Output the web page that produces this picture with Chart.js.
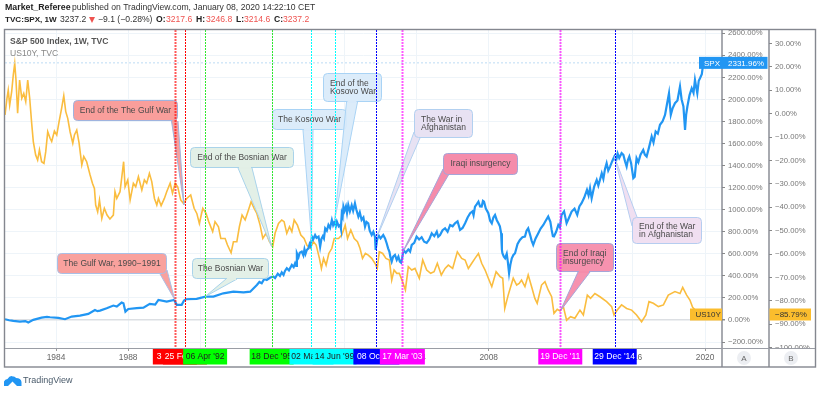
<!DOCTYPE html>
<html><head><meta charset="utf-8">
<style>html,body{margin:0;padding:0;background:#fff}#w{width:820px;height:393px;position:relative}</style>
<script src="https://cdn.jsdelivr.net/npm/chart.js@4/dist/chart.umd.min.js"></script>
</head><body><div id="w"><canvas id="c" width="820" height="393"></canvas></div>
<script>
const spxYears=[1981.17,1981.4,1981.63,1982.0,1982.3,1982.46,1982.74,1983.2,1983.5,1983.67,1984.13,1984.5,1984.87,1985.33,1985.79,1986.16,1986.3,1986.44,1986.81,1987.18,1987.37,1987.5,1987.64,1987.74,1987.85,1988.01,1988.48,1988.85,1989.2,1989.5,1989.68,1990.14,1990.55,1990.7,1990.97,1991.1,1991.21,1991.8,1992.29,1992.73,1993.28,1993.84,1994.4,1994.77,
1995.14,1995.28,1995.41,1995.55,1995.69,1995.88,1996.06,1996.15,1996.3,1996.42,
1996.52,1996.62,1996.7,1996.8,1996.92,1997.08,1997.18,1997.26,1997.32,1997.36,
1997.45,1997.52,1997.63,1997.72,1997.78,1997.84,1997.91,1998.0,1998.07,1998.13,
1998.19,1998.26,1998.37,1998.45,1998.56,1998.62,1998.65,1998.72,1998.8,1998.86,
1998.93,1999.02,1999.11,1999.2,1999.3,1999.37,1999.45,1999.52,1999.58,1999.68,
1999.76,1999.8,1999.85,1999.9,1999.94,2000.0,2000.08,2000.14,2000.21,2000.3,
2000.4,2000.48,2000.58,2000.66,2000.77,2000.85,2000.95,2001.05,2001.14,2001.22,
2001.32,2001.4,2001.51,2001.6,2001.69,2001.73,2001.8,2001.88,2002.0,2002.15,
2002.25,2002.34,2002.42,2002.49,2002.55,2002.62,2002.7,2002.8,2002.9,2002.99,
2003.07,2003.14,2003.2,2003.27,2003.4,2003.54,2003.64,2003.73,2003.87,2004.0,
2004.14,2004.28,2004.42,2004.56,2004.7,2004.84,2004.98,2005.12,2005.2,2005.3,
2005.44,2005.58,2005.72,2005.86,2006.0,2006.13,2006.27,2006.41,2006.55,2006.69,
2006.83,2006.97,2007.1,2007.16,2007.24,2007.34,2007.43,2007.52,2007.61,2007.68,
2007.74,2007.84,2007.98,2008.08,2008.17,2008.26,2008.35,2008.45,2008.54,2008.62,
2008.69,2008.73,2008.76,2008.84,2008.91,2009.0,2009.06,2009.13,2009.2,2009.28,
2009.37,2009.46,2009.6,2009.73,2009.87,2010.01,2010.1,2010.19,2010.3,2010.38,
2010.47,2010.6,2010.75,2010.88,2011.03,2011.16,2011.3,2011.42,2011.49,2011.56,
2011.62,2011.74,2011.86,2011.95,2012.04,2012.18,2012.32,2012.46,2012.6,2012.76,
2012.91,2013.03,2013.15,2013.3,2013.45,2013.54,2013.62,2013.71,2013.85,2013.99,
2014.08,2014.17,2014.27,2014.36,2014.45,2014.54,2014.63,2014.73,2014.85,2014.97,
2015.06,2015.15,2015.24,2015.37,2015.47,2015.56,2015.65,2015.72,2015.8,2015.9,
2016.02,2016.1,2016.2,2016.3,2016.42,2016.57,2016.66,2016.76,2016.9,2017.04,
2017.14,2017.26,2017.38,2017.5,2017.64,2017.78,2017.88,2018.0,2018.05,2018.1,
2018.2,2018.33,2018.47,2018.61,2018.7,2018.8,2018.85,2018.89,2018.95,2019.02,
2019.14,2019.26,2019.36,2019.44,2019.5,2019.57,2019.65,2019.72,2019.82,2019.9,2020.02];
const spxValues=[7,-2,-8,-14,-10,-23,1,22,28,25,19,7,31,40,55,91,80,85,107,131,122,140,158,152,76,100,107,112,146,140,182,167,182,137,137,176,188,191,212,212,242,257,251,257,
318,345,333,372,363,385,393,380,420,400,
432,409,445,469,450,499,480,514,490,605,
570,610,620,585,640,600,635,650,690,670,
756,730,771,745,756,700,665,735,760,740,
831,810,862,835,907,860,892,850,892,850,
862,830,967,940,1028,990,1030,970,1043,985,
1040,990,1058,1000,937,975,907,930,847,890,
877,810,771,800,756,635,720,771,740,771,
740,696,650,620,570,530,575,590,545,575,
530,520,560,635,610,640,620,681,700,756,
730,750,710,700,730,786,760,801,755,771,
815,832,800,862,850,877,895,817,835,877,
930,968,985,950,1028,1050,1073,1030,1028,1080,
1073,1010,968,900,877,930,952,905,877,850,
786,640,605,575,560,600,530,424,500,560,
590,605,690,726,750,757,810,832,770,720,
681,740,787,830,862,900,938,890,817,760,
757,800,862,840,953,985,878,930,983,1010,
953,1030,1059,1110,1180,1130,1195,1104,1210,1270,
1220,1271,1330,1280,1370,1422,1355,1391,1440,1483,
1440,1510,1470,1513,1497,1440,1392,1450,1483,1420,
1286,1300,1467,1430,1500,1543,1500,1483,1570,1664,
1610,1710,1690,1770,1800,1860,1950,2056,1950,1860,
1920,1966,1990,2117,2000,1936,1820,1724,1860,1936,
2040,2102,2060,2177,2120,2056,2170,2192,2230,2328,2332];
const yieldYears=[1981.17,1981.28,1981.35,1981.43,1981.54,1981.63,1981.71,1981.78,1981.87,1981.98,1982.1,1982.21,1982.32,1982.43,1982.54,1982.65,1982.74,1982.87,1982.98,1983.08,1983.2,1983.33,1983.43,1983.54,1983.67,1983.76,1983.91,1984.04,1984.17,1984.31,1984.43,1984.54,1984.65,1984.78,1984.93,1985.02,1985.15,1985.28,1985.43,1985.54,1985.7,1985.89,1986.02,1986.13,1986.2,1986.31,1986.41,1986.54,1986.68,1986.83,1986.99,1987.18,1987.27,1987.37,1987.55,1987.64,1987.75,1987.83,1987.98,1988.11,1988.29,1988.42,1988.57,1988.76,1988.9,1989.03,1989.18,1989.31,1989.46,1989.59,1989.68,1989.83,1990.01,1990.14,1990.33,1990.46,1990.61,1990.75,1990.92,1991.07,1991.25,1991.47,1991.66,1991.81,1991.95,1992.14,1992.32,1992.47,1992.69,1992.82,1993.01,1993.14,1993.38,1993.51,1993.71,1993.84,1994.03,1994.17,1994.32,1994.49,1994.67,1994.82,1994.99,1995.14,1995.32,1995.47,1995.65,1995.84,1996.02,1996.15,1996.34,1996.52,1996.65,1996.8,1996.95,1997.08,1997.21,1997.39,1997.58,1997.76,1997.91,1998.1,1998.28,1998.43,1998.61,1998.72,1998.84,1998.98,1999.13,1999.3,1999.43,1999.67,1999.85,2000.04,2000.17,2000.35,2000.54,2000.72,2000.86,2001.0,2001.16,2001.32,2001.51,2001.69,2001.82,2001.93,2002.12,2002.3,2002.49,2002.62,2002.75,2002.9,2003.04,2003.19,2003.38,2003.54,2003.73,2003.91,2004.15,2004.34,2004.56,2004.78,2004.97,2005.15,2005.37,2005.58,2005.76,2006.0,2006.26,2006.5,2006.69,2006.87,2007.06,2007.24,2007.43,2007.61,2007.8,2007.98,2008.17,2008.41,2008.63,2008.78,2008.89,2009.08,2009.36,2009.55,2009.69,2009.82,2010.01,2010.19,2010.38,2010.56,2010.69,2010.93,2011.12,2011.3,2011.49,2011.62,2011.8,2011.95,2012.14,2012.32,2012.54,2012.78,2013.06,2013.25,2013.47,2013.65,2013.89,2014.17,2014.54,2014.82,2014.95,2015.13,2015.37,2015.65,2015.93,2016.2,2016.48,2016.72,2016.89,2017.13,2017.41,2017.69,2017.96,2018.33,2018.61,2018.76,2018.98,2019.16,2019.31,2019.6,2019.8,2020.02];
const yieldValues=[-0.5,6.6,10.1,3.7,9.4,16.6,21.5,14.4,0.2,14.4,6.6,8.7,5.2,14.4,6.6,-4.1,-11.9,-17.6,-19.8,-15.5,-20.5,-21.2,-16.2,-7.7,-10.5,-11.9,-7.4,-9.1,-3.4,2.3,7.7,0.9,-2,-7.7,-12.6,-9.1,-7,-12.6,-21.9,-18.3,-20.5,-26.2,-29.7,-31.9,-39,-41.9,-36.9,-44.7,-40.4,-43.3,-45,-43.3,-33.3,-36.2,-33.3,-27.6,-20.5,-31.2,-28.3,-36.9,-29.7,-31.2,-26.9,-32.6,-28.3,-29.7,-25.5,-29,-36.2,-39,-36.2,-39.3,-36.2,-33.3,-29.7,-34,-29.7,-31.2,-36.9,-38.3,-36.2,-34.7,-40.4,-42.6,-46.9,-40.4,-42.6,-46.1,-50.4,-46.1,-48.3,-53.3,-53.3,-56.1,-59.4,-54.7,-54.7,-48.3,-43.3,-45.4,-41.2,-37.6,-40.4,-42.6,-47.6,-53.3,-51.1,-54.7,-56.8,-51.1,-46.9,-45.4,-46.1,-51.1,-48.3,-50.4,-45.4,-47.6,-51.8,-53.3,-56.1,-57.5,-54.7,-56.1,-61.8,-66.1,-61.8,-64.7,-59.7,-57.5,-53.3,-53.3,-51.8,-47.6,-53.3,-49.7,-53.3,-54.7,-57.5,-61.8,-59.7,-60.4,-61.8,-63.9,-66.1,-59,-59.7,-61.8,-62.5,-71.1,-66.8,-68.2,-68.2,-71.1,-75.3,-65.4,-66.8,-66.1,-70.3,-62.5,-66.8,-68.2,-67.5,-63.9,-68.9,-66.1,-64.7,-66.1,-59,-61.8,-62.5,-66.1,-63.9,-61.8,-59.7,-63.9,-66.8,-70.3,-73.9,-67.5,-69.6,-70.3,-83.2,-77.5,-70.3,-73.2,-72.5,-71.1,-73.9,-68.9,-73.9,-78.9,-81,-73.2,-71.8,-75.3,-78.2,-85.3,-83.6,-84.3,-82.4,-88.2,-86.7,-87.4,-83.9,-86,-77.5,-78.9,-76.8,-78.2,-80.3,-82.4,-86,-83.9,-81.7,-83.2,-83.9,-86,-88.9,-86,-80.3,-81,-82.4,-81.7,-77.5,-76,-76.8,-74.2,-77.5,-79.6,-82.7,-85,-87,-85.79];
const xTickYears=[1984,1988,1992,1996,2000,2004,2008,2012,2016,2020];
const axisATicks=[-200,0,200,400,600,800,1000,1200,1400,1600,1800,2000,2200,2400,2600];
const axisBTicks=[-100,-90,-80,-70,-60,-50,-40,-30,-20,-10,0,10,20,30];
const eventYears=[1990.59,1991.15,1992.27,1995.96,1998.17,1999.45,2001.77,2003.21,2011.97,2014.99];
const eventLabels=["3 Aug '90","25 Feb '91","06 Apr '92","18 Dec '95","02 Mar '98","14 Jun '99","08 Oct '01","17 Mar '03","19 Dec '11","29 Dec '14"];
const eventColors=["#ff0000","#ff0000","#00ff00","#00ff00","#00ffff","#00ffff","#0000ff","#ff00ff","#ff00ff","#0000ff"];
const eventText=["#fff","#fff","#222","#222","#222","#222","#fff","#fff","#fff","#fff"];
const eventWidths=[2,1,1,1,1,1,1,2,2,1];
const SPX_LAST=2331.96, US10Y_LAST=-85.79;

const F='"Liberation Sans"';
const pts=(xs,ys)=>xs.map((x,i)=>({x,y:ys[i]}));
const minus=s=>String(s).replace(/-/g,'\u2212');
const callouts=[
 {lines:["End of the The Gulf War"],tip:[1991.1,-39,'yB'],box:[73,100,178,121],base:[[171.5,121],[178,121]],fill:"rgba(249,150,146,.92)",edge:"#9fb4df"},
 {lines:["The Gulf War, 1990\u22121991"],tip:[1990.59,182,'yA'],box:[57,253,167,274],base:[[160,274],[167,270]],fill:"rgba(249,156,152,.95)",edge:"#a9bfe6"},
 {lines:["The Bosnian War"],tip:[1992.27,212,'yA'],box:[192,258,269,279],base:[[226,279],[237,279]],fill:"rgba(226,239,230,.95)",edge:"#a9d3ea"},
 {lines:["End of the Bosnian War"],tip:[1995.96,-56.8,'yB'],box:[190,147,294,168],base:[[238,168],[252,168]],fill:"rgba(226,239,230,.95)",edge:"#a9d3ea"},
 {lines:["The Kosovo War"],tip:[1998.17,725,'yA'],box:[272,109,347,130],base:[[303,130],[313,130]],fill:"rgba(217,234,250,.92)",edge:"#a9d3f5"},
 {lines:["End of the","Kosovo War"],tip:[1999.45,900,'yA'],box:[323,73,382,102],base:[[346.5,102],[357.5,102]],fill:"rgba(217,234,250,.92)",edge:"#a9d3f5"},
 {lines:["The War in","Afghanistan"],tip:[2001.77,740,'yA'],box:[414,109,473,138],base:[[414,132],[420,138]],fill:"rgba(230,224,242,.92)",edge:"#b2d0f0"},
 {lines:["Iraqi insurgency"],tip:[2003.21,610,'yA'],box:[443,153,518,175],base:[[443,169],[448.5,175]],fill:"rgba(245,140,171,1)",edge:"#a5a5d8"},
 {lines:["End of Iraqi","insurgency"],tip:[2011.97,-84.3,'yB'],box:[556,243,614,272],base:[[578,272],[590,272]],fill:"rgba(245,140,171,.95)",edge:"#a5a5d8"},
 {lines:["End of the War","in Afghanistan"],tip:[2014.97,1483,'yA'],box:[632,217,702,244],base:[[632,226],[637,217]],fill:"rgba(239,221,240,.95)",edge:"#b5cdf0"},
];
function rr(c,x0,y0,x1,y1,r){c.beginPath();c.roundRect(x0,y0,x1-x0,y1-y0,r);}
const overlay={id:'overlay',
 afterDatasetsDraw(ch){
  const c=ch.ctx,X=ch.scales.x,a=ch.chartArea;
  c.save();
  const py=ch.scales.yA.getPixelForValue(SPX_LAST);
  c.strokeStyle='#bcdcf5';c.lineWidth=1;c.setLineDash([2,2]);
  c.beginPath();c.moveTo(a.left,py);c.lineTo(699,py);c.stroke();c.setLineDash([]);
  callouts.forEach(o=>{
    const tx=X.getPixelForValue(o.tip[0]),ty=ch.scales[o.tip[2]].getPixelForValue(o.tip[1]);
    const [x0,y0,x1,y1]=o.box;
    c.fillStyle=o.fill;c.strokeStyle=o.edge;c.lineWidth=1;
    c.beginPath();c.moveTo(o.base[0][0],o.base[0][1]);c.lineTo(tx,ty);c.lineTo(o.base[1][0],o.base[1][1]);c.closePath();c.fill();
    c.beginPath();c.moveTo(o.base[0][0],o.base[0][1]);c.lineTo(tx,ty);c.lineTo(o.base[1][0],o.base[1][1]);c.stroke();
    rr(c,x0+.5,y0+.5,x1-.5,y1-.5,4);c.fill();c.stroke();
    c.fillStyle=o.fill.replace(/,[.\d]+\)$/,',1)');
    c.beginPath();c.moveTo(o.base[0][0]+1,o.base[0][1]-1.5);c.lineTo(o.base[1][0]-1,o.base[1][1]-1.5);c.lineTo(o.base[1][0]-1,o.base[1][1]+1);c.lineTo(o.base[0][0]+1,o.base[0][1]+1);c.closePath();
    if(o.base[0][1]===o.base[1][1])c.fill();
    c.fillStyle='#4a4a4a';c.font='8.5px '+F;c.textBaseline='middle';c.textAlign='left';
    const cx=(x0+x1)/2,cy=(y0+y1)/2;
    o.lines.forEach((t,i)=>{const w=c.measureText(t).width;
      const lx=o.lines.length>1?x0+7:cx-w/2;
      c.fillText(t,lx,cy+(i-(o.lines.length-1)/2)*8);});
  });
  eventYears.forEach((yr,i)=>{
    const x=Math.round(X.getPixelForValue(yr))+.5;
    c.strokeStyle=eventColors[i]==='#00ff00'?'#30e830':eventColors[i];c.lineWidth=eventWidths[i];
    c.globalAlpha=eventWidths[i]>1?.65:1;
    c.setLineDash([2,1]);
    c.beginPath();c.moveTo(x,a.top);c.lineTo(x,a.bottom+1);c.stroke();
  });
  c.globalAlpha=1;c.setLineDash([]);
  c.restore();
 },
 afterDraw(ch){
  const c=ch.ctx,X=ch.scales.x;
  c.save();
  c.textBaseline='middle';
  c.fillStyle='#fff';c.fillRect(723,349,92,17);
  c.strokeStyle='#84878f';c.lineWidth=1.4;c.strokeRect(4.5,29.5,811,337.5);
  c.beginPath();c.moveTo(722,30);c.lineTo(722,367);c.moveTo(769,30);c.lineTo(769,367);c.stroke();
  c.strokeStyle='#9a9da5';c.lineWidth=1;c.beginPath();c.moveTo(5,348.5);c.lineTo(815,348.5);c.stroke();
  eventYears.forEach((yr,i)=>{
    const x=X.getPixelForValue(yr),w=i===6?46:(i===7?45:44);
    c.fillStyle=eventColors[i];c.fillRect(x-w/2,349,w,15.5);
    c.fillStyle=eventText[i];c.font='8.6px '+F;c.textAlign='center';
    c.fillText(eventLabels[i],x,357);
  });
  const sy=ch.scales.yA.getPixelForValue(SPX_LAST);
  c.fillStyle='#2196f3';c.fillRect(699,sy-6,68.5,12);
  c.fillStyle='#fff';c.font='8px '+F;c.textAlign='left';c.fillText('SPX',704,sy+.5);c.fillText(SPX_LAST.toFixed(2)+'%',728,sy+.5);
  const uy=ch.scales.yB.getPixelForValue(US10Y_LAST);
  c.fillStyle='#fbbd2d';c.fillRect(690,uy-6,32,12);c.fillRect(769.5,uy-6,41.5,12);
  c.fillStyle='#333';c.textAlign='left';c.fillText('US10Y',695.5,uy+.5);
  c.fillText(minus(US10Y_LAST.toFixed(2))+'%',775,uy+.5);
  [['A',744],['B',791]].forEach(([t,x])=>{
    c.fillStyle='#eceef2';c.beginPath();c.arc(x,358,7,0,Math.PI*2);c.fill();
    c.fillStyle='#666';c.font='8px '+F;c.textAlign='center';c.fillText(t,x,358.5);
  });
  c.textAlign='left';
  c.fillStyle='#555';c.font='bold 8.6px '+F;c.fillText('S&P 500 Index, 1W, TVC',10,41.5);
  c.fillStyle='#888';c.font='8.6px '+F;c.fillText('US10Y, TVC',10,54);
  const seg=(t,x,y,col,bold,size)=>{c.fillStyle=col;c.font=(bold?'bold ':'')+(size||8.6)+'px '+F;c.fillText(t,x,y);};
  seg('Market_Referee',5,8,'#222',true,8.8);
  seg('published on TradingView.com, January 08, 2020 14:22:10 CET',72,8,'#333',false);
  seg('TVC:SPX, 1W',5,20,'#222',true,8.1);
  seg('3237.2',60,20,'#333',false);
  c.fillStyle='#ef5350';c.beginPath();c.moveTo(89,17);c.lineTo(95,17);c.lineTo(92,23);c.closePath();c.fill();
  seg('\u22129.1 (\u22120.28%)',98,20,'#333',false);
  seg('O:',156,20,'#222',true);seg('3217.6',166,20,'#ef5350',false);
  seg('H:',196,20,'#222',true);seg('3246.8',206,20,'#ef5350',false);
  seg('L:',236,20,'#222',true);seg('3214.6',244,20,'#ef5350',false);
  seg('C:',274,20,'#222',true);seg('3237.2',283,20,'#ef5350',false);
  c.fillStyle='#2196f3';c.beginPath();
  c.moveTo(4,386);c.lineTo(4,381.5);c.quadraticCurveTo(5,379,7.5,379);c.quadraticCurveTo(10,375,13,376.5);c.quadraticCurveTo(15,376,16,378);c.quadraticCurveTo(21,378,21.5,382);c.lineTo(21.5,386);c.lineTo(17,386);c.lineTo(12.5,381.5);c.lineTo(8,386);c.closePath();c.fill();
  c.fillStyle='#4a5b6b';c.font='9px '+F;c.fillText('TradingView',23,380.5);
  c.restore();
 }
};
new Chart(document.getElementById('c'),{
 type:'line',
 data:{datasets:[
  {label:'US10Y',data:pts(yieldYears,yieldValues),yAxisID:'yB',borderColor:'#fabd3f',borderWidth:1.6,pointRadius:0,tension:0,order:2},
  {label:'SPX',data:pts(spxYears,spxValues),yAxisID:'yA',borderColor:'#2196f3',borderWidth:2.2,pointRadius:0,tension:0,order:1}
 ]},
 plugins:[overlay],
 options:{responsive:false,animation:false,devicePixelRatio:1,
  layout:{padding:{left:5,right:5,top:30,bottom:26}},
  plugins:{legend:{display:false},tooltip:{enabled:false}},
  scales:{
   x:{type:'linear',min:1981.17,max:2020.94,
     afterBuildTicks(ax){ax.ticks=xTickYears.map(v=>({value:v}));},
     afterFit(ax){ax.height=19;},
     border:{display:false},
     grid:{color:'#eef4f9',lineWidth:1,tickLength:3,tickColor:'#999'},
     ticks:{autoSkip:false,maxRotation:0,padding:2,color:'#666',font:{family:F,size:8.4},callback:v=>String(v)}},
   yA:{type:'linear',position:'right',weight:0,min:-254,max:2630,
     afterBuildTicks(ax){ax.ticks=axisATicks.map(v=>({value:v}));},
     afterFit(ax){ax.width=47;},
     border:{display:false},
     grid:{color:c=>c.tick&&c.tick.value===0?'#dcdfe3':'#eef4f9',lineWidth:c=>c.tick&&c.tick.value===0?1.5:1,tickLength:3,tickColor:'#888'},
     ticks:{autoSkip:false,padding:3,color:'#777',font:{family:F,size:7.7},callback:v=>minus(v.toFixed(2))+'%'}},
   yB:{type:'linear',position:'right',weight:1,min:-100.1,max:35.77,
     afterBuildTicks(ax){ax.ticks=axisBTicks.map(v=>({value:v}));},
     afterFit(ax){ax.width=46;},
     border:{display:false},
     grid:{drawOnChartArea:false,tickLength:3,tickColor:'#888'},
     ticks:{autoSkip:false,padding:3,color:'#777',font:{family:F,size:7.7},callback:v=>minus(v.toFixed(2))+'%'}}
  }
 }
});
</script></body></html>
